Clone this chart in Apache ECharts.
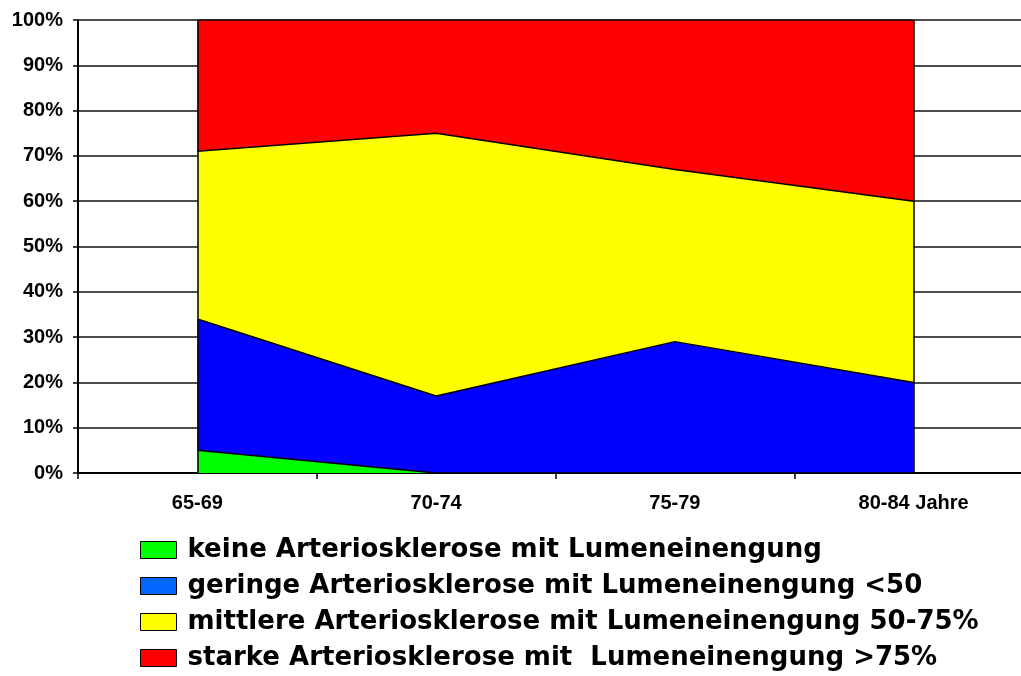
<!DOCTYPE html>
<html>
<head>
<meta charset="utf-8">
<script src="https://cdn.jsdelivr.net/npm/echarts@6/dist/echarts.min.js"></script>
<style>
  html, body { margin: 0; padding: 0; background: #fff; overflow: hidden; }
  #main { width: 1040px; height: 676px; }
</style>
</head>
<body>
<div id="main"></div>
<script>
// Altersgruppen
const categories = ['65-69', '70-74', '75-79', '80-84 Jahre'];
// Anteile in % (gestapelt)
const keine = [5, 0, 0, 0];
const geringe = [29, 17, 29, 20];
const mittlere = [37, 58, 38, 40];
const starke = [29, 25, 33, 40];
const names = [
  'keine Arteriosklerose mit Lumeneinengung',
  'geringe Arteriosklerose mit Lumeneinengung <50',
  'mittlere Arteriosklerose mit Lumeneinengung 50-75%',
  'starke Arteriosklerose mit  Lumeneinengung >75%'
];
const yTicks = [0, 10, 20, 30, 40, 50, 60, 70, 80, 90, 100];

var chart = echarts.init(document.getElementById('main'));

function areaSeries(name, data, color) {
  return {
    name: name,
    type: 'line',
    stack: 'total',
    data: data,
    symbol: 'none',
    itemStyle: { color: color },
    lineStyle: { color: '#000', width: 1.5 },
    areaStyle: { color: color, opacity: 1 }
  };
}

var series = [
  areaSeries(names[0], keine, '#00ff00'),
  areaSeries(names[1], geringe, '#0000ff'),
  areaSeries(names[2], mittlere, '#ffff00'),
  areaSeries(names[3], starke, '#ff0000')
];
// senkrechte Randlinien der Fläche
series[3].markLine = {
  silent: true,
  symbol: 'none',
  label: { show: false },
  lineStyle: { color: '#000', width: 1.5, type: 'solid' },
  data: [{ xAxis: categories[0] }, { xAxis: categories[categories.length - 1] }]
};

var legendColors = ['#00ff00', '#0066ff', '#ffff00', '#ff0000'];

var option = {
  animation: false,
  backgroundColor: '#fff',
  grid: { left: 78, top: 20, width: 955, height: 453 },
  legend: {
    orient: 'vertical',
    left: 140,
    top: 532,
    height: 144,
    padding: 0,
    icon: 'rect',
    itemWidth: 36,
    itemHeight: 17,
    itemGap: 0,
    data: names.map(function (n, i) {
      return { name: n, itemStyle: { color: legendColors[i], borderColor: '#000', borderWidth: 1 } };
    }),
    textStyle: {
      fontFamily: 'DejaVu Sans',
      fontWeight: 'bold',
      fontSize: 26,
      color: '#000',
      lineHeight: 36,
      padding: [0, 0, 0, 6]
    }
  },
  xAxis: {
    type: 'category',
    data: categories,
    boundaryGap: true,
    axisLine: { lineStyle: { color: '#000', width: 2 } },
    axisTick: { show: true, length: 6, lineStyle: { color: '#000', width: 1.5 } },
    axisLabel: {
      margin: 20,
      color: '#000',
      fontFamily: 'Liberation Sans',
      fontWeight: 'bold',
      fontSize: 20
    },
    splitLine: { show: false }
  },
  yAxis: {
    type: 'value',
    min: yTicks[0],
    max: yTicks[yTicks.length - 1],
    interval: 10,
    axisLine: { show: true, lineStyle: { color: '#000', width: 2 } },
    axisTick: { show: true, length: 5, lineStyle: { color: '#000', width: 1.5 } },
    axisLabel: {
      formatter: '{value}%',
      margin: 15,
      color: '#000',
      fontFamily: 'Liberation Sans',
      fontWeight: 'bold',
      fontSize: 20
    },
    splitLine: { lineStyle: { color: '#111', width: 1.5 } }
  },
  series: series
};

chart.setOption(option);
</script>
</body>
</html>
